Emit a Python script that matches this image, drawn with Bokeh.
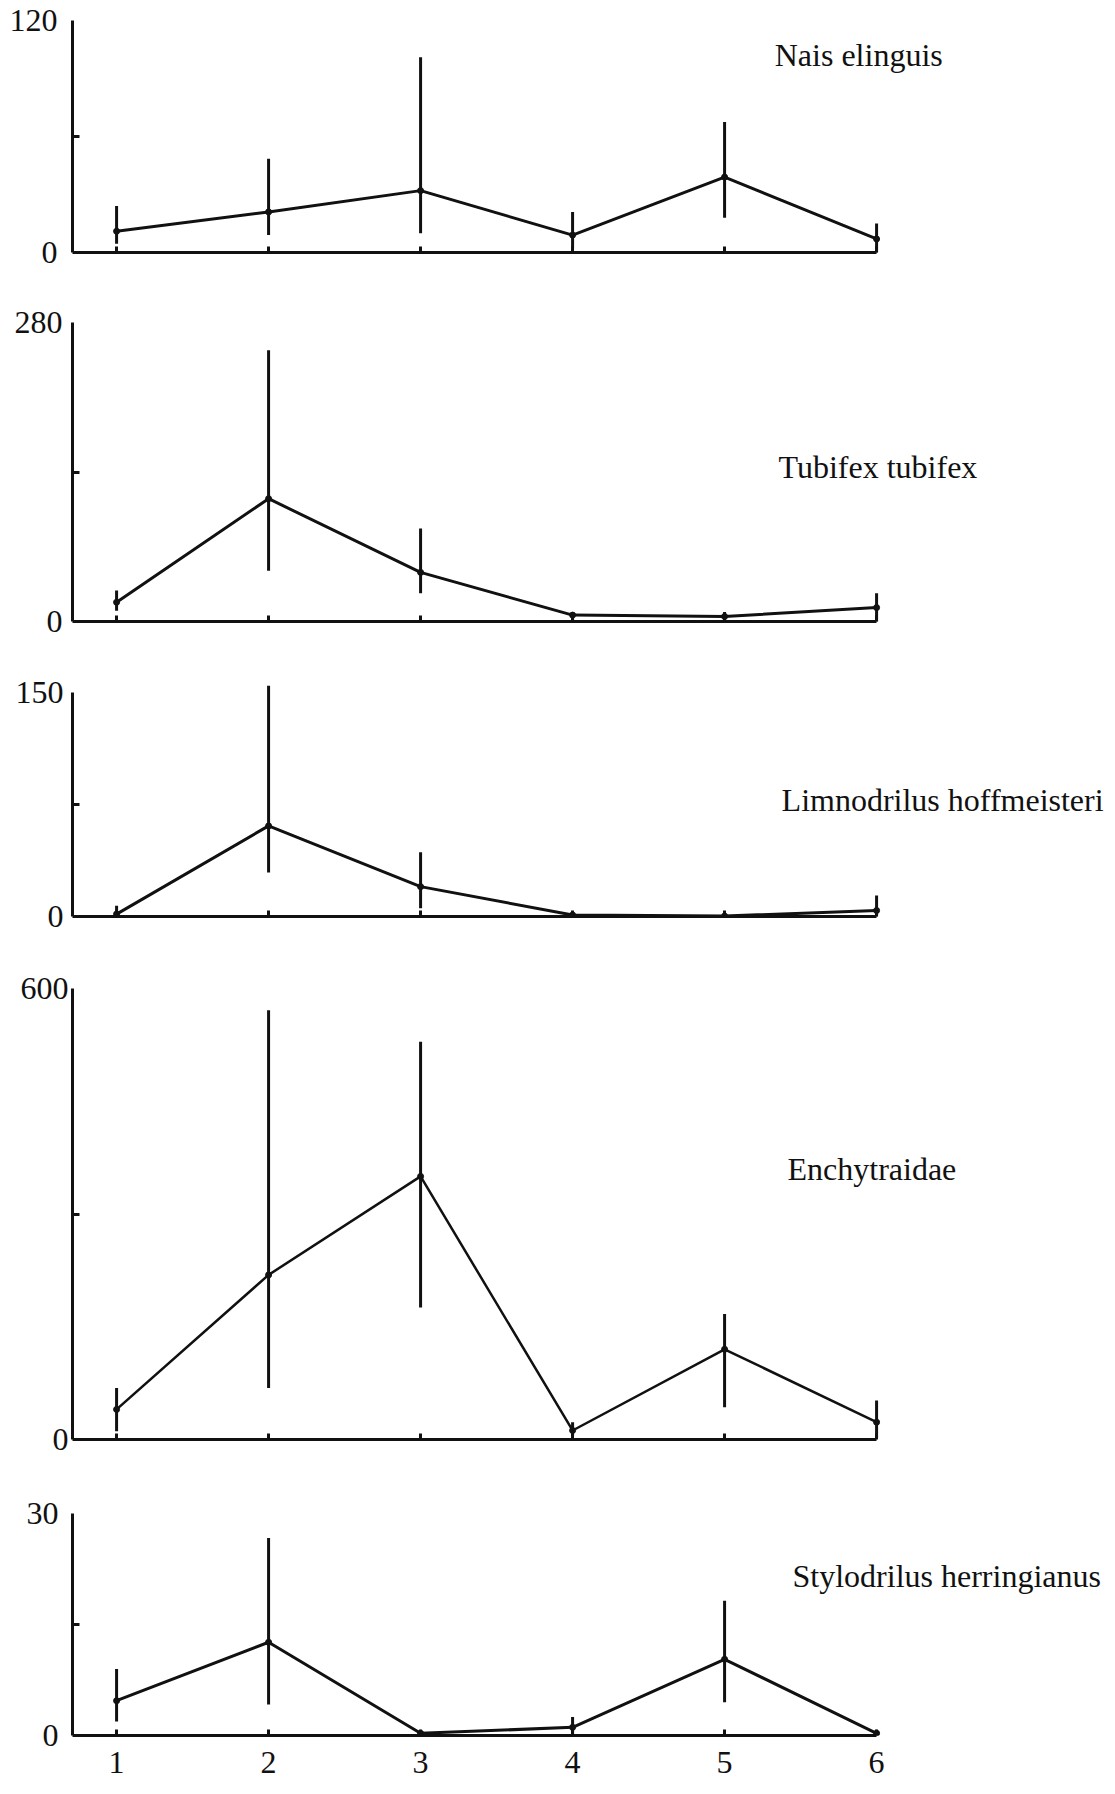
from bokeh.plotting import figure
from bokeh.layouts import column
from bokeh.models import Range1d, FixedTicker, ColumnDataSource
from bokeh.core.properties import value
from bokeh.embed import file_html
from bokeh.resources import INLINE

# Sites along the stream (x axis)
sites = [1, 2, 3, 4, 5, 6]
site_labels = ["1", "2", "3", "4", "5", "6"]

# Mean abundance with lower / upper limits of the vertical bars, per taxon
nais_mean = [11, 21, 32, 9, 39, 7]
nais_low = [4.5, 9, 10, 2, 18, 0]
nais_high = [24, 48.5, 101, 21, 67.5, 15]

tubifex_mean = [18, 115, 46, 6, 4.7, 13]
tubifex_low = [10, 47.5, 26.5, 0, 0, 0]
tubifex_high = [29, 254, 87, 9, 9, 26.5]

limno_mean = [1.6, 60.7, 20, 1, 0.3, 4]
limno_low = [0, 29.5, 5.6, 1, 0.3, 0]
limno_high = [7.2, 154.5, 43, 1, 0.3, 14]

ench_mean = [40, 219, 350, 12, 120, 23]
ench_low = [11, 68.6, 175.6, 5, 43, 2]
ench_high = [68.6, 571, 529, 23, 167, 52]

styl_mean = [4.7, 12.6, 0.3, 1.1, 10.3, 0.3]
styl_low = [1.9, 4.2, 0.3, 0, 4.5, 0.3]
styl_high = [9, 26.7, 0.3, 2.5, 18.2, 0.3]

taxa = ["Nais elinguis", "Tubifex tubifex", "Limnodrilus hoffmeisteri",
        "Enchytraidae", "Stylodrilus herringianus"]
y_max = [120, 280, 150, 600, 30]
y_mid = [60, 140, 75, 300, 15]

INK = "#111111"
SERIF = "Liberation Serif"
FONT = "32px"
WIDTH = 1115
FRAME_LEFT = 72
PX_PER_SITE = 152.0
X_START = 0.71
X_END = X_START + (WIDTH - FRAME_LEFT) / PX_PER_SITE

# name, mean, low, high, ymax, ymid, y range end, top border, frame h, bottom border,
# label position (x, y in data units), tick label standoff, line width
panels = [
    (taxa[0], nais_mean, nais_low, nais_high, y_max[0], y_mid[0], 120.0, 20, 232, 28, (5.33, 102), 15, 3),
    (taxa[1], tubifex_mean, tubifex_low, tubifex_high, y_max[1], y_mid[1], 280.0, 42, 299, 29, (5.355, 145), 10, 3),
    (taxa[2], limno_mean, limno_low, limno_high, y_max[2], y_mid[2], 155.4, 34, 232, 34, (5.375, 78), 9, 3),
    (taxa[3], ench_mean, ench_low, ench_high, y_max[3], y_mid[3], 600.0, 38, 451, 31, (5.414, 360), 4, 2.5),
    (taxa[4], styl_mean, styl_low, styl_high, y_max[4], y_mid[4], 30.0, 43, 222, 55, (5.447, 21.6), 14, 3),
]

figs = []
for i, (name, mean, low, high, ymax, ymid, yend, top, fh, bottom, lab, standoff, lw) in enumerate(panels):
    last = i == len(panels) - 1
    p = figure(width=WIDTH, height=top + fh + bottom,
               x_range=Range1d(X_START, X_END), y_range=Range1d(0, yend),
               output_backend="svg", toolbar_location=None,
               min_border_left=FRAME_LEFT, min_border_right=0,
               min_border_top=top, min_border_bottom=bottom)
    p.outline_line_color = None
    p.grid.visible = False
    p.background_fill_color = "white"
    p.border_fill_color = "white"

    src = ColumnDataSource(dict(x=sites, mean=mean, low=low, high=high))
    p.segment(x0="x", y0="low", x1="x", y1="high", source=src,
              line_color=INK, line_width=3)
    p.line(x="x", y="mean", source=src, line_color=INK, line_width=lw)
    p.scatter(x="x", y="mean", source=src, size=6, marker="circle",
              fill_color=INK, line_color=INK)

    p.text(x=[lab[0]], y=[lab[1]], text=[name], text_font=value(SERIF),
           text_font_size=FONT, text_color=INK, text_align="left",
           text_baseline="middle")

    xa = p.xaxis[0]
    xa.ticker = FixedTicker(ticks=sites)
    xa.bounds = (X_START, 6)
    xa.axis_line_width = 3
    xa.axis_line_color = INK
    xa.major_tick_in = 6
    xa.major_tick_out = 0
    xa.major_tick_line_width = 3
    xa.major_tick_line_color = INK
    xa.minor_tick_line_color = None
    if last:
        xa.major_label_overrides = {s: t for s, t in zip(sites, site_labels)}
        xa.major_label_text_font = SERIF
        xa.major_label_text_font_size = FONT
        xa.major_label_text_color = INK
        xa.major_label_standoff = 16
    else:
        xa.major_label_overrides = {s: "" for s in sites}

    ya = p.yaxis[0]
    ya.ticker = FixedTicker(ticks=[0, ymax], minor_ticks=[ymid])
    ya.bounds = (0, ymax)
    ya.axis_line_width = 3
    ya.axis_line_color = INK
    ya.major_tick_in = 0
    ya.major_tick_out = 0
    ya.minor_tick_in = 7
    ya.minor_tick_out = 0
    ya.minor_tick_line_width = 3
    ya.minor_tick_line_color = INK
    ya.major_label_text_font = SERIF
    ya.major_label_text_font_size = FONT
    ya.major_label_text_color = INK
    ya.major_label_standoff = standoff

    figs.append(p)

layout = column(*figs, spacing=0)
open("out.html", "w").write(file_html(layout, INLINE, title="Oligochaete abundance by site"))
